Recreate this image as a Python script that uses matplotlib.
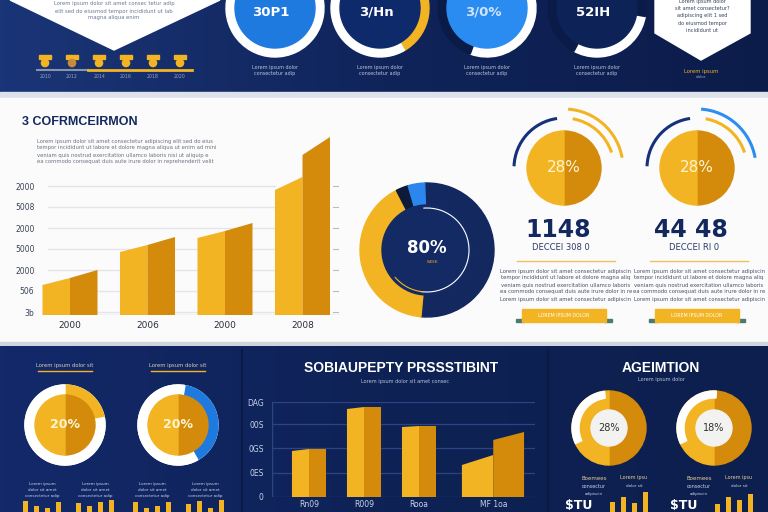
import numpy as np
import matplotlib
matplotlib.use('Agg')
import matplotlib.pyplot as plt
from matplotlib.patches import Wedge, Circle, Polygon, Rectangle, Arc
from matplotlib.colors import LinearSegmentedColormap

NAVY = '#13285e'
NAVY_D = '#0b1b47'
GOLD = '#f3b424'
GOLD_D = '#d48b0c'
BLUE = '#1f7ae0'
CREAM = '#fff4cf'

# ---------------- data ----------------
# top strip
top_ring_text = ['30P1', '3/Hn', '3/0%', '52IH']
top_ring_parts = [[('white', 62), (NAVY_D, 38)],
                  [(GOLD, 25), ('white', 45), (NAVY_D, 30)],
                  [('white', 75), (NAVY_D, 25)],
                  [('white', 30), (NAVY_D, 70)]]
timeline_labels = ['2010', '2012', '2014', '2016', '2018', '2020']

# main bar chart (left face start/end, right face start/end)
main_years = ['2000', '2006', '2000', '2008']
main_ticks = [3, 24, 45, 66, 87, 108, 129]
main_tick_labels = ['3b', '506', '2000', '5000', '2000', '5008', '2000']
main_left_lo = [30, 63, 77, 125]
main_left_hi = [37, 70, 84, 138]
main_right_lo = [37, 70, 84, 160]
main_right_hi = [45, 78, 92, 178]

# centre donut, clockwise from the top: navy, gold, dark, blue
donut_shares = [52, 41, 3, 4]
donut_text = '80%'

# two gauges on the right
gauge_text = ['28%', '28%']
stat_numbers = ['1148', '44 48']
stat_sub = ['DECCEI 308 0', 'DECCEI RI 0']

# bottom left rings
bl_text = ['20%', '20%']
bl_arc_share = [22, 39]
bl_mini = [[11, 6, 4, 10], [9, 6, 10, 12], [10, 4, 6, 10], [8, 11, 4, 12]]

# bottom bar chart
bot_cats = ['Rn09', 'R009', 'Rooa', 'MF 1oa']
bot_ticks = [0, 24, 49, 73, 95]
bot_tick_labels = ['0', '0ES', '0GS', '00S', 'DAG']
bot_left_lo = [46, 88, 70, 32]
bot_left_hi = [48, 90, 71, 42]
bot_right_lo = [48, 90, 71, 57]
bot_right_hi = [48, 90, 71, 65]

# bottom right donuts
br_text = ['28%', '18%']
br_white_share = [30, 33]
br_mini = [[10, 15, 9, 20], [8, 15, 12, 18]]

filler = ['Lorem ipsum dolor sit amet consectetur adipiscing elit sed do eiusmod',
          'tempor incididunt ut labore et dolore magna aliqua ut enim ad minim',
          'veniam quis nostrud exercitation ullamco laboris nisi ut aliquip ex',
          'ea commodo consequat duis aute irure dolor in reprehenderit velit']

# ---------------- figure ----------------
fig = plt.figure(figsize=(7.68, 5.12), dpi=100)
bg = fig.add_axes([0, 0, 1, 1])
bg.axis('off')


def px_axes(x, y, w, h):
    a = fig.add_axes([x / 768, 1 - (y + h) / 512, w / 768, h / 512])
    a.patch.set_alpha(0)
    return a


# y axis of bg points down, so an on-screen angle v is -v in data
def ring(cx, cy, r, width, parts, start, z=3):
    # consecutive wedges, clockwise on screen from start angle
    total = sum(p[1] for p in parts)
    a = start
    for col, v in parts:
        d = 360 * v / total
        bg.add_patch(Wedge((cx, cy), r, -a, -a + d, width=width, color=col, zorder=z))
        a -= d


def varc(cx, cy, r, t1, t2, col, lw, z=3):
    bg.add_patch(Arc((cx, cy), 2 * r, 2 * r, theta1=-t2, theta2=-t1, color=col, lw=lw, zorder=z))


def half_disk(cx, cy, r, left, right, z=4):
    bg.add_patch(Wedge((cx, cy), r, -90, 90, color=right, zorder=z))
    bg.add_patch(Wedge((cx, cy), r, 90, 270, color=left, zorder=z))


def lines(x, y0, n, step, width_chars, col, fs=3.6, ha='center'):
    for i in range(n):
        t = filler[i % len(filler)][:width_chars]
        bg.text(x, y0 + i * step, t, fontsize=fs, color=col, ha=ha, va='center', zorder=6)


grad = np.linspace(0, 1, 256)[None, :]
band_cm = LinearSegmentedColormap.from_list('band', ['#1a3577', '#10245a', '#0c1c4a'])
bg.imshow(grad, extent=[0, 768, 92, 0], cmap=band_cm, aspect='auto', zorder=0)
bg.add_patch(Rectangle((0, 92), 768, 6, color='#dde2ea', zorder=0))
bg.add_patch(Rectangle((0, 98), 768, 246, color='#fbfbfc', zorder=0))
bg.add_patch(Rectangle((0, 342), 768, 4, color='#cfd4dd', zorder=0))
bot_cm = LinearSegmentedColormap.from_list('bot', ['#13296a', '#0e2255', '#0d1f4e'])
bg.imshow(grad, extent=[0, 768, 512, 346], cmap=bot_cm, aspect='auto', zorder=0)
for xv in (242, 548):
    bg.plot([xv, xv], [350, 512], color='#0a1a45', lw=1.5, zorder=1)

# ---- top strip ----
bg.add_patch(Polygon([(10, 0), (220, 0), (114, 50)], color='white', zorder=2))
bg.text(114, 4, 'Lorem ipsum dolor sit amet consec tetur adip', fontsize=3.8, color='#6a7894', ha='center', va='center', zorder=6)
bg.text(114, 11, 'elit sed do eiusmod tempor incididunt ut lab', fontsize=3.8, color='#6a7894', ha='center', va='center', zorder=6)
bg.text(114, 18, 'magna aliqua enim', fontsize=3.8, color='#6a7894', ha='center', va='center', zorder=6)

bg.plot([37, 88], [70, 70], color='#8a93a8', lw=1.5, zorder=3)
bg.plot([88, 192], [70, 70], color=GOLD, lw=2, zorder=3)
for i, lab in enumerate(timeline_labels):
    tx = 45 + 27 * i
    bg.add_patch(Rectangle((tx - 6, 55), 12, 3.5, color=GOLD, zorder=4))
    bg.add_patch(Circle((tx, 63), 3.6, color=GOLD if i != 1 else '#c98a3a', zorder=4))
    bg.text(tx, 76, lab, fontsize=3.3, color='#9aa6c0', ha='center', va='center', zorder=6)

top_cx = [275, 380, 487, 597]
top_disk = [BLUE, '#0f2a6b', '#2a8cf0', '#0d2257']
top_txt_col = ['white', 'white', '#cfe4ff', 'white']
top_start = [20, 30, 160, -10]
for i, cx in enumerate(top_cx):
    ring(cx, 8, 49, 9, top_ring_parts[i], top_start[i])
    bg.add_patch(Circle((cx, 8), 40, color=top_disk[i], zorder=4))
    bg.text(cx - 4, 12, top_ring_text[i], fontsize=9.5, fontweight='bold', color=top_txt_col[i],
            ha='center', va='center', zorder=6)
    bg.text(cx, 67, 'Lorem ipsum dolor', fontsize=3.5, color='#b9c4db', ha='center', va='center', zorder=6)
    bg.text(cx, 74, 'consectetur adip', fontsize=3.5, color='#b9c4db', ha='center', va='center', zorder=6)

bg.add_patch(Polygon([(655, 0), (750, 0), (750, 33), (701, 60), (655, 33)], color='white', zorder=2))
for k, t in enumerate(['Lorem ipsum dolor', 'sit amet consectetur?', 'adipiscing elit 1 sed',
                       'do eiusmod tempor', 'incididunt ut']):
    bg.text(702, 2 + k * 7, t, fontsize=3.6, color='#33405e', ha='center', va='center', zorder=6)
bg.text(701, 71, 'Lorem ipsum', fontsize=3.8, color=GOLD, ha='center', va='center', zorder=6)
bg.text(701, 77, 'dolor', fontsize=3, color='#9aa6c0', ha='center', va='center', zorder=6)

# ---- main bar chart ----
bg.text(22, 122, '3 COFRMCEIRMON', fontsize=9, fontweight='bold', color=NAVY, ha='left', va='center',
        family='Liberation Sans', zorder=6)
lines(37, 141, 4, 7, 66, '#6b7280', fs=3.8, ha='left')

ax = px_axes(40, 130, 300, 185)
ax.set_xlim(-0.387, 3.484)
ax.set_ylim(0, 185)
hw = 0.355
for y in main_ticks:
    ax.plot([-0.284, 2.645], [y, y], color='#e3e5ea', lw=1, zorder=1)
    ax.plot([3.39, 3.46], [y, y], color='#b9bcc4', lw=0.8, zorder=1)
ax.plot([-0.3, 3.48], [0, 0], color='#cfd2d8', lw=1, zorder=1)
for i in range(len(main_years)):
    ax.fill([i - hw, i - hw, i, i], [0, main_left_lo[i], main_left_hi[i], 0], color=GOLD, lw=0, zorder=3)
    ax.fill([i, i, i + hw, i + hw], [0, main_right_lo[i], main_right_hi[i], 0], color=GOLD_D, lw=0, zorder=3)
ax.set_xticks(range(len(main_years)))
ax.set_xticklabels(main_years, fontsize=6.5, color='#2a2f3a')
ax.set_yticks(main_ticks)
ax.set_yticklabels(main_tick_labels, fontsize=5.5, color='#3a4256')
ax.tick_params(length=0, pad=4)
for s in ax.spines.values():
    s.set_visible(False)

# ---- centre donut ----
ring(427, 250, 67, 23, list(zip([NAVY, GOLD, '#0d1a3a', '#2b86ee'], donut_shares)), 92)
bg.add_patch(Circle((427, 250), 45, color='#132a64', zorder=4))
varc(427, 250, 42, -100, 95, 'white', 0.8, z=5)
varc(427, 250, 42, 220, 265, GOLD, 0.8, z=5)
bg.text(427, 248, donut_text, fontsize=12, fontweight='bold', color='white', ha='center', va='center', zorder=6)
bg.text(433, 262, 'WEEK', fontsize=2.8, color=GOLD, ha='center', va='center', zorder=6)

# ---- gauges ----
g_cx = [564, 697]
for i, cx in enumerate(g_cx):
    half_disk(cx, 168, 37, GOLD, GOLD_D)
    varc(cx, 168, 50, 98, 178, '#16307a', 2.2)
    varc(cx, 168, 50, 18, 80, GOLD, 2.2)
    varc(cx, 168, 59, 10, 86, '#2d8df0' if i else GOLD, 2.2)
    bg.text(cx, 168, gauge_text[i], fontsize=11, color=CREAM, ha='center', va='center', zorder=6)
    bg.text(cx - 6, 230, stat_numbers[i], fontsize=17, fontweight='bold', color=NAVY, ha='center', va='center', zorder=6)
    bg.text(cx - 3, 247, stat_sub[i], fontsize=6, color='#2a3a66', ha='center', va='center', zorder=6)
    bg.plot([cx - 47, cx + 51], [261, 261], color='#f0c060', lw=1, zorder=3)
    lines(cx + 2, 271, 5, 7, 48, '#4a5068', fs=3.8)
    bg.add_patch(Rectangle((cx - 42, 309), 84, 13, color=GOLD, zorder=4))
    bg.add_patch(Rectangle((cx - 48, 319), 8, 3, color='#4a7a70', zorder=3))
    bg.add_patch(Rectangle((cx + 40, 319), 8, 3, color='#4a7a70', zorder=3))
    bg.text(cx, 315.5, 'LOREM IPSUM DOLOR', fontsize=3.4, color='white', ha='center', va='center', zorder=6)

# ---- bottom left ----
bl_cx = [65, 178]
bl_arc_col = [GOLD, '#1f7ae0']
bl_start = [90, 80]
for i, cx in enumerate(bl_cx):
    bg.text(cx, 365, 'Lorem ipsum dolor sit', fontsize=3.8, color='#d8cfb4', ha='center', va='center', zorder=6)
    bg.plot([cx - 27, cx + 27], [371, 371], color=GOLD, lw=1, zorder=3)
    bg.add_patch(Circle((cx, 425), 40, color='white', zorder=3))
    ring(cx, 425, 40, 10, [(bl_arc_col[i], bl_arc_share[i]), ('white', 100 - bl_arc_share[i])], bl_start[i])
    half_disk(cx, 425, 30, GOLD, GOLD_D)
    bg.text(cx, 425, bl_text[i], fontsize=9, fontweight='bold', color=CREAM, ha='center', va='center', zorder=6)

mini_x0 = [25, 78, 135, 188]
for g, heights in enumerate(bl_mini):
    gx = mini_x0[g]
    bg.text(gx + 17, 484, 'Lorem ipsum', fontsize=3, color='#c9d2e6', ha='center', va='center', zorder=6)
    bg.text(gx + 17, 490, 'dolor sit amet', fontsize=3, color='#c9d2e6', ha='center', va='center', zorder=6)
    bg.text(gx + 17, 496, 'consectetur adip', fontsize=3, color='#c9d2e6', ha='center', va='center', zorder=6)
    xs = gx + np.arange(len(heights)) * 11
    bg.bar(xs, heights, width=5, bottom=512 - np.array(heights), color=GOLD, zorder=4)

# ---- bottom bar chart ----
bg.text(401, 368, 'SOBIAUPEPTY PRSSSTIBINT', fontsize=10, fontweight='bold', color='white',
        ha='center', va='center', family='Liberation Sans', zorder=6)
bg.text(405, 381, 'Lorem ipsum dolor sit amet consec', fontsize=3.6, color='#b9c4db', ha='center', va='center', zorder=6)
bx = px_axes(272, 402, 263, 95)
bx.set_xlim(-0.673, 4.109)
bx.set_ylim(0, 95)
for y in bot_ticks:
    bx.axhline(y, color='#2c4482', lw=0.9, zorder=1)
bx.axvline(-0.673, color='#2c4482', lw=1, zorder=1)
lx = [[-0.31, 0.0, 0.31], [0.69, 1.0, 1.31], [1.69, 2.0, 2.31], [2.78, 3.35, 3.91]]
for i in range(len(bot_cats)):
    a, b, c = lx[i]
    bx.fill([a, a, b, b], [0, bot_left_lo[i], bot_left_hi[i], 0], color=GOLD, lw=0, zorder=3)
    bx.fill([b, b, c, c], [0, bot_right_lo[i], bot_right_hi[i], 0], color=GOLD_D, lw=0, zorder=3)
bx.set_xticks([p[1] for p in lx])
bx.set_xticklabels(bot_cats, fontsize=5.5, color='#c9d2e6')
bx.set_yticks(bot_ticks)
bx.set_yticklabels(bot_tick_labels, fontsize=5.5, color='#c9d2e6')
bx.tick_params(axis='x', length=0, pad=2)
bx.tick_params(axis='y', length=0, pad=6)
for s in bx.spines.values():
    s.set_visible(False)

# ---- bottom right ----
bg.text(661, 368, 'AGEIMTION', fontsize=10, fontweight='bold', color='white', ha='center', va='center',
        family='Liberation Sans', zorder=6)
bg.text(661, 380, 'Lorem ipsum dolor', fontsize=3.6, color='#b9c4db', ha='center', va='center', zorder=6)
br_cx = [609, 714]
for i, cx in enumerate(br_cx):
    half_disk(cx, 428, 37, GOLD, GOLD_D, z=3)
    ring(cx, 428, 37, 7, [('white', br_white_share[i]), ((0, 0, 0, 0), 100 - br_white_share[i])], 205)
    bg.add_patch(Circle((cx, 428), 18, color='#f2f2f0', zorder=5))
    bg.text(cx, 428, br_text[i], fontsize=7, color='#333333', ha='center', va='center', zorder=6)
    bg.text(cx - 15, 478, 'Boemees', fontsize=4, color='#e6cf9a', ha='center', va='center', zorder=6)
    bg.text(cx - 15, 486, 'consectur', fontsize=3.5, color='#c9d2e6', ha='center', va='center', zorder=6)
    bg.text(cx - 15, 494, 'adipiscin', fontsize=3, color='#c9d2e6', ha='center', va='center', zorder=6)
    bg.text(cx + 25, 478, 'Lorem ipsu', fontsize=3.5, color='#e6cf9a', ha='center', va='center', zorder=6)
    bg.text(cx + 25, 486, 'dolor sit', fontsize=3, color='#c9d2e6', ha='center', va='center', zorder=6)
    bg.text(cx - 30, 506, '$TU', fontsize=9, fontweight='bold', color='white', ha='center', va='center', zorder=6)
    xs = cx + 3 + np.arange(len(br_mini[i])) * 11
    bg.bar(xs, br_mini[i], width=5, bottom=512 - np.array(br_mini[i]), color=GOLD, zorder=4)

bg.set_xlim(0, 768)
bg.set_ylim(512, 0)
fig.savefig('out.png', dpi=100)
